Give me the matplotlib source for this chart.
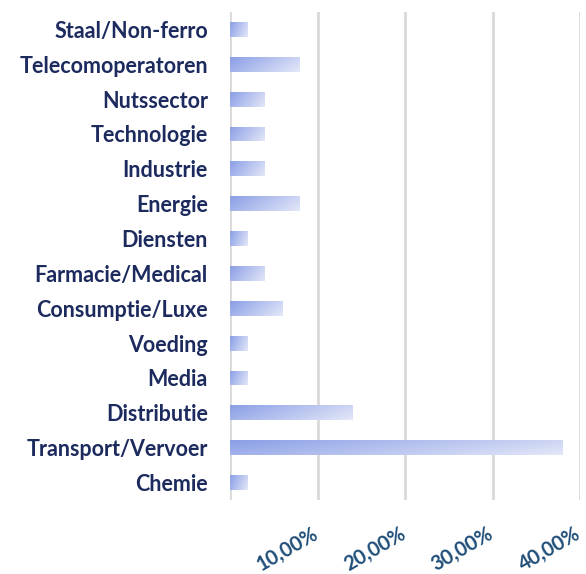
import numpy as np
import matplotlib
matplotlib.use('Agg')
import matplotlib.pyplot as plt
import matplotlib.transforms as mtransforms
from matplotlib.colors import LinearSegmentedColormap

# sectors, top to bottom as in the chart
sectors = ["Staal/Non-ferro", "Telecomoperatoren", "Nutssector", "Technologie",
           "Industrie", "Energie", "Diensten", "Farmacie/Medical",
           "Consumptie/Luxe", "Voeding", "Media", "Distributie",
           "Transport/Vervoer", "Chemie"]
shares = [0.02, 0.08, 0.04, 0.04, 0.04, 0.08, 0.02, 0.04, 0.06, 0.02, 0.02, 0.14, 0.38, 0.02]
xticks = [0.10, 0.20, 0.30, 0.40]
xticklabels = ["10,00%", "20,00%", "30,00%", "40,00%"]

plt.rcParams['font.family'] = ['Lato', 'DejaVu Sans']

fig = plt.figure(figsize=(5.86, 5.74), dpi=100)
ax = fig.add_axes([230/586, 1-500/574, 350/586, 488/574])

cmap = LinearSegmentedColormap.from_list("bar", ["#8b9fe6", "#e3e7f8"])
# diagonal gradient in bar-local coordinates
gx, gy = np.meshgrid(np.linspace(0, 1, 100), np.linspace(0, 1, 20))
grad = 0.75*gx + 0.25*gy

n = len(sectors)
ypos = np.arange(n)
bars = ax.barh(ypos, shares, height=0.43, color='none', edgecolor='none', zorder=2)
for b in bars:
    x0, y0 = b.get_x(), b.get_y()
    w, h = b.get_width(), b.get_height()
    im = ax.imshow(grad, cmap=cmap, extent=[x0, x0+w, y0+h, y0], aspect='auto',
                   zorder=2, interpolation='bilinear')
    im.set_clip_path(b)

ax.set_xlim(0, 0.40)
ax.set_ylim(n-0.5, -0.5)
ax.set_xticks([0] + xticks)
ax.set_xticklabels([])
# rotated x labels drawn by hand, nudged a little left so the last one fits
off = mtransforms.ScaledTranslation(-4/72, -17/72, fig.dpi_scale_trans)
for xv, txt in zip(xticks, xticklabels):
    ax.text(xv, 0, txt, transform=ax.get_xaxis_transform() + off,
            rotation=30, ha='right', va='top', rotation_mode='anchor',
            fontsize=14.5, fontweight='bold', color='#1f4e79')
ax.set_yticks(ypos)
ax.set_yticklabels(sectors, fontsize=15.5, fontweight='bold', color='#1c2a5e')
ax.tick_params(axis='both', length=0)
ax.tick_params(axis='y', pad=16)
ax.grid(axis='x', color='#d9d9d9', linewidth=2, zorder=0)
ax.set_axisbelow(True)
for s in ax.spines.values():
    s.set_visible(False)

fig.savefig("out.png", dpi=100)
